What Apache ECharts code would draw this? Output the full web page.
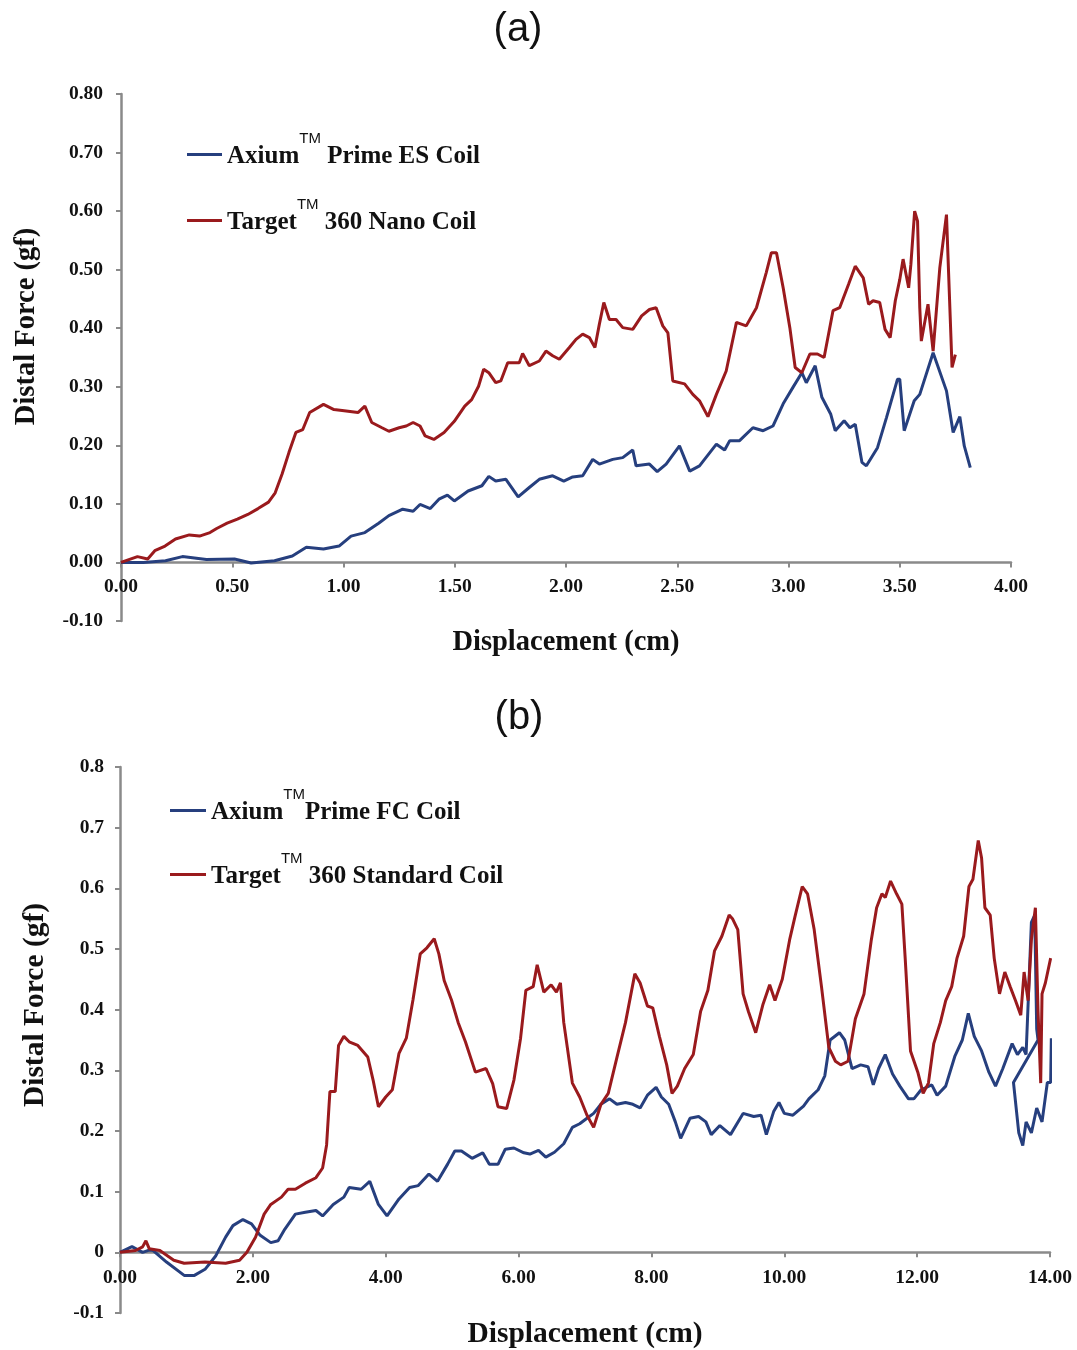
<!DOCTYPE html>
<html>
<head>
<meta charset="utf-8">
<script src="https://cdn.jsdelivr.net/npm/echarts@6/dist/echarts.min.js"></script>
<style>html,body{margin:0;padding:0;background:#fff}#c{width:1077px;height:1350px}</style>
</head>
<body>
<div id="c"></div>
<script>
// ---- Panel (a) data: [displacement cm, distal force gf]
var namesA = ['Axium\u2122 Prime ES Coil', 'Target\u2122 360 Nano Coil'];
var aAxium = [[0,0],[0.1,0],[0.2,0.003],[0.276,0.010],[0.384,0.005],[0.51,0.006],[0.585,-0.001],[0.69,0.003],[0.77,0.011],[0.833,0.026],[0.91,0.023],[0.98,0.028],[1.034,0.045],[1.096,0.051],[1.158,0.067],[1.204,0.080],[1.266,0.091],[1.313,0.0875],[1.344,0.099],[1.39,0.092],[1.429,0.108],[1.467,0.115],[1.498,0.105],[1.56,0.122],[1.622,0.131],[1.653,0.147],[1.684,0.139],[1.73,0.142],[1.785,0.112],[1.835,0.128],[1.88,0.142],[1.94,0.148],[1.99,0.139],[2.03,0.146],[2.075,0.148],[2.12,0.176],[2.15,0.168],[2.21,0.176],[2.255,0.179],[2.30,0.192],[2.315,0.165],[2.375,0.168],[2.41,0.155],[2.45,0.168],[2.51,0.199],[2.556,0.156],[2.60,0.165],[2.676,0.202],[2.713,0.192],[2.736,0.208],[2.78,0.208],[2.84,0.230],[2.886,0.225],[2.93,0.233],[2.976,0.271],[3.02,0.299],[3.06,0.324],[3.08,0.307],[3.12,0.336],[3.15,0.282],[3.19,0.253],[3.21,0.225],[3.25,0.242],[3.276,0.230],[3.30,0.236],[3.33,0.171],[3.35,0.165],[3.40,0.196],[3.44,0.247],[3.49,0.313],[3.50,0.313],[3.52,0.225],[3.565,0.276],[3.59,0.287],[3.65,0.358],[3.71,0.293],[3.74,0.222],[3.77,0.249],[3.79,0.199],[3.817,0.162]];
var aTarget = [[0,0],[0.074,0.010],[0.12,0.006],[0.152,0.020],[0.198,0.028],[0.245,0.040],[0.307,0.047],[0.353,0.045],[0.40,0.051],[0.43,0.058],[0.477,0.067],[0.523,0.074],[0.57,0.082],[0.616,0.092],[0.663,0.103],[0.693,0.119],[0.724,0.151],[0.755,0.188],[0.786,0.222],[0.817,0.227],[0.848,0.256],[0.91,0.27],[0.957,0.261],[1.003,0.259],[1.065,0.256],[1.096,0.267],[1.127,0.239],[1.173,0.23],[1.204,0.224],[1.25,0.23],[1.282,0.233],[1.313,0.239],[1.344,0.233],[1.367,0.216],[1.406,0.21],[1.452,0.222],[1.498,0.241],[1.545,0.267],[1.576,0.278],[1.607,0.301],[1.63,0.33],[1.653,0.324],[1.684,0.307],[1.707,0.31],[1.738,0.341],[1.79,0.341],[1.805,0.357],[1.835,0.336],[1.88,0.344],[1.91,0.361],[1.94,0.353],[1.97,0.347],[2.015,0.367],[2.045,0.381],[2.075,0.39],[2.105,0.384],[2.13,0.367],[2.15,0.407],[2.17,0.444],[2.195,0.415],[2.225,0.415],[2.255,0.401],[2.30,0.398],[2.34,0.421],[2.375,0.432],[2.405,0.435],[2.435,0.404],[2.458,0.392],[2.48,0.31],[2.533,0.305],[2.57,0.287],[2.60,0.276],[2.638,0.249],[2.676,0.287],[2.72,0.327],[2.766,0.41],[2.81,0.404],[2.856,0.435],[2.90,0.495],[2.923,0.529],[2.946,0.529],[2.976,0.469],[3.006,0.401],[3.03,0.333],[3.06,0.324],[3.096,0.356],[3.13,0.356],[3.16,0.35],[3.20,0.43],[3.23,0.435],[3.27,0.475],[3.30,0.506],[3.336,0.486],[3.36,0.441],[3.38,0.447],[3.41,0.444],[3.434,0.398],[3.457,0.384],[3.48,0.447],[3.50,0.483],[3.515,0.518],[3.54,0.469],[3.55,0.509],[3.567,0.6],[3.58,0.583],[3.59,0.435],[3.597,0.378],[3.627,0.441],[3.65,0.361],[3.68,0.503],[3.71,0.594],[3.735,0.333],[3.75,0.355]];

// ---- Panel (b) data
var namesB = ['Axium\u2122Prime FC Coil', 'Target\u2122 360 Standard Coil'];
var bAxium = [[0,0],[0.18,0.0095],[0.34,0.0],[0.45,0.004],[0.5,0.003],[0.70,-0.016],[0.966,-0.038],[1.12,-0.038],[1.28,-0.028],[1.44,-0.006],[1.59,0.025],[1.70,0.044],[1.85,0.054],[1.98,0.047],[2.11,0.028],[2.27,0.016],[2.38,0.019],[2.48,0.038],[2.64,0.063],[2.79,0.066],[2.95,0.069],[3.05,0.06],[3.21,0.079],[3.37,0.091],[3.45,0.107],[3.63,0.104],[3.76,0.117],[3.89,0.079],[4.02,0.06],[4.20,0.088],[4.36,0.107],[4.49,0.11],[4.65,0.129],[4.78,0.117],[4.93,0.145],[5.04,0.167],[5.14,0.167],[5.30,0.155],[5.46,0.164],[5.56,0.145],[5.69,0.145],[5.80,0.17],[5.93,0.172],[6.08,0.164],[6.17,0.162],[6.30,0.168],[6.41,0.157],[6.54,0.165],[6.68,0.179],[6.81,0.206],[6.92,0.212],[7.03,0.221],[7.13,0.229],[7.24,0.244],[7.37,0.253],[7.48,0.244],[7.61,0.247],[7.72,0.244],[7.83,0.238],[7.94,0.259],[8.07,0.272],[8.15,0.256],[8.26,0.244],[8.36,0.215],[8.44,0.188],[8.58,0.221],[8.71,0.224],[8.82,0.215],[8.90,0.194],[9.03,0.209],[9.19,0.194],[9.38,0.229],[9.54,0.224],[9.65,0.226],[9.73,0.194],[9.84,0.232],[9.92,0.247],[10.00,0.229],[10.13,0.226],[10.29,0.241],[10.37,0.253],[10.51,0.268],[10.61,0.291],[10.69,0.35],[10.83,0.362],[10.91,0.35],[11.02,0.303],[11.15,0.309],[11.26,0.306],[11.34,0.276],[11.42,0.303],[11.52,0.326],[11.63,0.294],[11.74,0.274],[11.87,0.253],[11.95,0.253],[12.06,0.268],[12.22,0.276],[12.30,0.259],[12.43,0.274],[12.57,0.324],[12.68,0.35],[12.77,0.394],[12.86,0.356],[12.97,0.332],[13.08,0.297],[13.18,0.274],[13.29,0.303],[13.43,0.344],[13.51,0.326],[13.59,0.338],[13.64,0.326],[13.72,0.544],[13.77,0.556],[13.80,0.368],[13.82,0.35],[13.45,0.28],[13.53,0.197],[13.59,0.176],[13.64,0.215],[13.72,0.197],[13.80,0.238],[13.88,0.215],[13.96,0.28],[14.01,0.28],[14.02,0.353]];
var bTarget = [[0,0],[0.235,0.003],[0.34,0.009],[0.39,0.019],[0.44,0.006],[0.60,0.003],[0.81,-0.013],[0.966,-0.018],[1.28,-0.016],[1.59,-0.018],[1.80,-0.013],[1.91,0],[2.04,0.025],[2.17,0.063],[2.27,0.079],[2.43,0.091],[2.53,0.104],[2.64,0.104],[2.79,0.114],[2.95,0.123],[3.05,0.139],[3.11,0.177],[3.16,0.265],[3.24,0.265],[3.29,0.341],[3.37,0.356],[3.45,0.347],[3.58,0.341],[3.73,0.322],[3.81,0.284],[3.89,0.24],[4.0,0.256],[4.10,0.268],[4.20,0.328],[4.31,0.353],[4.41,0.416],[4.52,0.492],[4.62,0.502],[4.73,0.517],[4.80,0.492],[4.88,0.448],[4.99,0.416],[5.09,0.379],[5.20,0.347],[5.35,0.297],[5.51,0.303],[5.61,0.278],[5.69,0.24],[5.82,0.237],[5.93,0.284],[6.03,0.353],[6.11,0.432],[6.22,0.438],[6.28,0.474],[6.38,0.429],[6.49,0.441],[6.57,0.429],[6.63,0.444],[6.68,0.379],[6.81,0.279],[6.92,0.256],[7.03,0.226],[7.13,0.206],[7.24,0.244],[7.35,0.262],[7.48,0.321],[7.61,0.379],[7.75,0.459],[7.83,0.444],[7.94,0.406],[8.02,0.403],[8.12,0.356],[8.23,0.309],[8.31,0.262],[8.39,0.274],[8.50,0.303],[8.63,0.326],[8.74,0.397],[8.85,0.432],[8.95,0.497],[9.06,0.521],[9.17,0.556],[9.22,0.55],[9.30,0.532],[9.38,0.426],[9.46,0.397],[9.57,0.362],[9.68,0.409],[9.78,0.441],[9.86,0.415],[9.97,0.45],[10.08,0.515],[10.16,0.553],[10.27,0.603],[10.35,0.591],[10.45,0.532],[10.56,0.438],[10.67,0.338],[10.77,0.315],[10.85,0.309],[10.96,0.315],[11.07,0.385],[11.20,0.426],[11.31,0.515],[11.39,0.568],[11.47,0.591],[11.52,0.585],[11.60,0.612],[11.69,0.591],[11.77,0.574],[11.82,0.485],[11.90,0.332],[12.01,0.297],[12.09,0.262],[12.17,0.279],[12.25,0.344],[12.35,0.379],[12.43,0.415],[12.52,0.438],[12.60,0.485],[12.70,0.521],[12.78,0.603],[12.84,0.615],[12.92,0.679],[12.97,0.65],[13.02,0.568],[13.10,0.556],[13.16,0.485],[13.24,0.426],[13.32,0.462],[13.40,0.438],[13.48,0.415],[13.56,0.391],[13.61,0.462],[13.67,0.415],[13.72,0.515],[13.78,0.568],[13.82,0.397],[13.86,0.279],[13.88,0.426],[13.93,0.444],[14.01,0.485]];

var xTitle = 'Displacement (cm)';
var yTitle = 'Distal Force (gf)';
var panelTitles = ['(a)', '(b)'];

var BLUE = '#263f7e', RED = '#9a1a1d', AXIS = '#8a8a8a';
var SERIF = '"Liberation Serif","Times New Roman",serif';
var SANS = '"Liberation Sans",Arial,sans-serif';

function legendFmt(name) {
  var p = name.split('\u2122');
  return '{t|' + p[0] + '}{s|TM}{t|' + p[1] + '}';
}
var legendRich = {
  t: {fontFamily: SERIF, fontWeight: 'bold', fontSize: 25, color: '#111', verticalAlign: 'bottom', lineHeight: 36, padding: [0, 0, 9, 0]},
  s: {fontFamily: SANS, fontWeight: 'normal', fontSize: 15, color: '#111', verticalAlign: 'bottom', padding: [0, 0, 32, 0]}
};

function yAxisCfg(grid, fmt, margin, gap, pad, nameSize) {
  return {
    type: 'value', gridIndex: grid, min: -0.1, max: 0.8, interval: 0.1,
    axisLine: {show: true, lineStyle: {color: AXIS, width: 2.5}},
    axisTick: {show: true, length: 5, lineStyle: {color: AXIS, width: 2}},
    splitLine: {show: false},
    axisLabel: {formatter: fmt, margin: margin, fontFamily: SERIF, fontWeight: 'bold', fontSize: 19.5, color: '#111'},
    name: yTitle, nameLocation: 'middle', nameGap: gap,
    nameTextStyle: {fontFamily: SERIF, fontWeight: 'bold', fontSize: nameSize, color: '#111', padding: pad}
  };
}
// axis line placed on y = 0 : shift by one tenth of the 0.9-wide y range
function xAxisCfg(grid, max, interval, gridH, margin, gap, nameSize) {
  return {
    type: 'value', gridIndex: grid, min: 0, max: max, interval: interval,
    offset: -gridH * (0.1 / 0.9),
    axisLine: {show: true, onZero: false, lineStyle: {color: AXIS, width: 2.5}},
    axisTick: {show: true, length: 5, lineStyle: {color: AXIS, width: 2}},
    splitLine: {show: false},
    axisLabel: {formatter: function (v) { return v.toFixed(2); }, margin: margin, fontFamily: SERIF, fontWeight: 'bold', fontSize: 19.5, color: '#111'},
    name: xTitle, nameLocation: 'middle', nameGap: gap,
    nameTextStyle: {fontFamily: SERIF, fontWeight: 'bold', fontSize: nameSize, color: '#111'}
  };
}

var chart = echarts.init(document.getElementById('c'), null, {renderer: 'canvas'});
chart.setOption({
  backgroundColor: '#fff',
  animation: false,
  title: [
    {text: panelTitles[0], left: 513, top: 5, textAlign: 'center', textStyle: {fontFamily: SANS, fontWeight: 'normal', fontSize: 40, color: '#111'}},
    {text: panelTitles[1], left: 514, top: 693, textAlign: 'center', textStyle: {fontFamily: SANS, fontWeight: 'normal', fontSize: 40, color: '#111'}}
  ],
  legend: [
    {data: namesA, orient: 'vertical', left: 187, top: 131, padding: 0, itemGap: 19, icon: 'rect', itemWidth: 35, itemHeight: 3,
     formatter: legendFmt, textStyle: {rich: legendRich}},
    {data: namesB, orient: 'vertical', left: 170, top: 787, padding: 0, itemGap: 17, icon: 'rect', itemWidth: 36, itemHeight: 3,
     formatter: legendFmt, textStyle: {rich: legendRich}}
  ],
  grid: [
    {left: 121, top: 94, width: 890, height: 527, outerBoundsMode: 'none'},
    {left: 120, top: 767, width: 930, height: 546, outerBoundsMode: 'none'}
  ],
  xAxis: [xAxisCfg(0, 4, 0.5, 527, 15, 66, 28.5), xAxisCfg(1, 14, 2, 546, 16, 67, 29.5)],
  yAxis: [
    yAxisCfg(0, function (v) { return v.toFixed(2); }, 18, 80, [0, 0, 0, 62], 28.5),
    yAxisCfg(1, function (v) { return Math.abs(v) < 1e-9 ? '0' : v.toFixed(1); }, 16, 70, [0, 0, 0, 70], 29.5)
  ],
  series: [
    {name: namesA[0], type: 'line', xAxisIndex: 0, yAxisIndex: 0, data: aAxium, showSymbol: false, lineStyle: {color: BLUE, width: 3}, itemStyle: {color: BLUE}},
    {name: namesA[1], type: 'line', xAxisIndex: 0, yAxisIndex: 0, data: aTarget, showSymbol: false, lineStyle: {color: RED, width: 3}, itemStyle: {color: RED}},
    {name: namesB[0], type: 'line', xAxisIndex: 1, yAxisIndex: 1, data: bAxium, showSymbol: false, lineStyle: {color: BLUE, width: 3}, itemStyle: {color: BLUE}},
    {name: namesB[1], type: 'line', xAxisIndex: 1, yAxisIndex: 1, data: bTarget, showSymbol: false, lineStyle: {color: RED, width: 3}, itemStyle: {color: RED}}
  ]
});
</script>
</body>
</html>
